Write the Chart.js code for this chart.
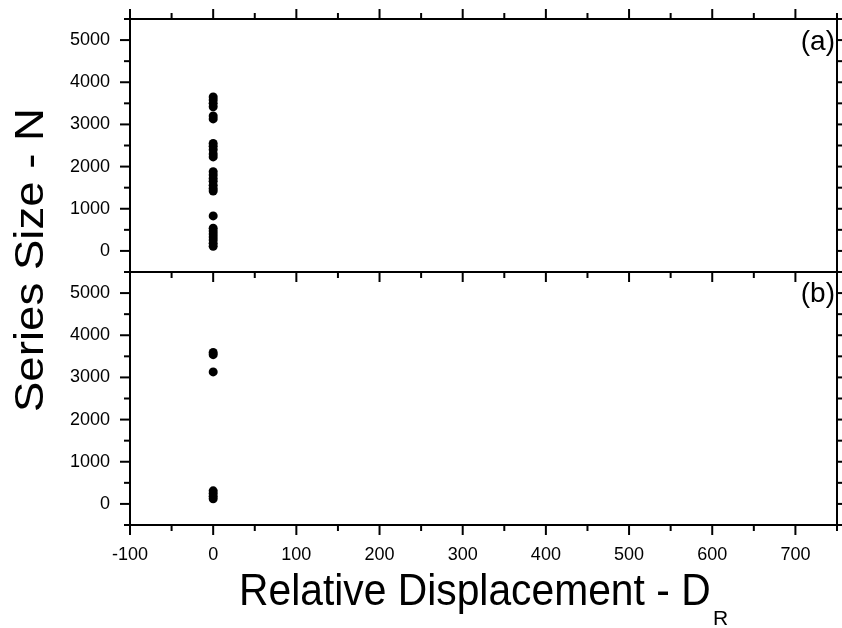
<!DOCTYPE html>
<html>
<head>
<meta charset="utf-8">
<script src="https://cdn.jsdelivr.net/npm/chart.js@4.4.0/dist/chart.umd.min.js"></script>
<style>
    html, body { margin: 0; padding: 0; background: #fff; }
    #wrap { width: 842px; height: 628px; position: relative; }
</style>
</head>
<body>
<div id="wrap"><canvas id="chart" width="842" height="628"></canvas></div>
<script>
// tick labels
const xTicks = [-100, 0, 100, 200, 300, 400, 500, 600, 700];
const yTicks = [0, 1000, 2000, 3000, 4000, 5000];

// panel (a): series size N vs relative displacement D_R
const sizeA = [3650, 3580, 3500, 3420, 3200, 3130,
               2550, 2480, 2400, 2300, 2230,
               1880, 1800, 1720, 1650, 1560, 1480, 1420,
               830,
               540, 470, 400, 330, 260, 180, 110];
const dispA = [0, 0, 0, 0, 0, 0,
               0, 0, 0, 0, 0,
               0, 0, 0, 0, 0, 0, 0,
               0,
               0, 0, 0, 0, 0, 0, 0];

// panel (b)
const sizeB = [3590, 3540, 3130, 310, 250, 180, 120];
const dispB = [0, 0, 0, 0, 0, 0, 0];

const FONT = '"Liberation Sans", Arial, sans-serif';

function toPoints(xs, ys) {
    return ys.map((y, i) => ({ x: xs[i], y: y }));
}

function line(ctx, x1, y1, x2, y2) {
    ctx.beginPath();
    ctx.moveTo(x1, y1);
    ctx.lineTo(x2, y2);
    ctx.stroke();
}

// frame, tick marks, titles and panel labels
const framePlugin = {
    id: 'frame',
    afterDraw(chart) {
        const ctx = chart.ctx;
        const ca = chart.chartArea;
        const x = chart.scales.x;
        const ya = chart.scales.yA;
        const yb = chart.scales.yB;
        const mid = ya.bottom;

        ctx.save();
        ctx.strokeStyle = '#000';
        ctx.lineWidth = 2;
        ctx.strokeRect(ca.left, ca.top, ca.right - ca.left, ca.bottom - ca.top);
        line(ctx, ca.left, mid, ca.right, mid);

        for (let v = -100; v <= 750; v += 50) {
            const px = x.getPixelForValue(v);
            const len = v % 100 === 0 ? 10 : 6;
            line(ctx, px, ca.top, px, ca.top - len);
            line(ctx, px, mid, px, mid + len);
            line(ctx, px, ca.bottom, px, ca.bottom + len);
        }

        [ya, yb].forEach(s => {
            for (let v = -500; v <= 5500; v += 500) {
                const py = s.getPixelForValue(v);
                const len = v % 1000 === 0 ? 10 : 6;
                line(ctx, ca.left - len, py, ca.left, py);
                line(ctx, ca.right, py, ca.right + len, py);
            }
        });

        ctx.fillStyle = '#000';

        // panel labels
        ctx.font = '28px ' + FONT;
        ctx.textAlign = 'right';
        ctx.textBaseline = 'alphabetic';
        ctx.fillText('(a)', ca.right - 2, ca.top + 31);
        ctx.fillText('(b)', ca.right - 2, mid + 30);

        // x title with subscript (source image is slightly stretched vertically)
        ctx.textAlign = 'left';
        ctx.save();
        ctx.translate(239, 605);
        ctx.scale(1, 1.09);
        ctx.font = '40.8px ' + FONT;
        ctx.fillText('Relative Displacement - D', 0, 0);
        ctx.restore();
        ctx.font = '21px ' + FONT;
        ctx.fillText('R', 713, 625);

        // y title
        ctx.save();
        ctx.font = '40px ' + FONT;
        ctx.textAlign = 'center';
        ctx.translate(43, 260);
        ctx.rotate(-Math.PI / 2);
        ctx.scale(1.14, 1);
        ctx.fillText('Series Size - N', 0, 0);
        ctx.restore();
        ctx.restore();
    }
};

function yScale() {
    return {
        type: 'linear',
        position: 'left',
        stack: 'panels',
        stackWeight: 1,
        min: -500,
        max: 5500,
        afterBuildTicks: s => { s.ticks = yTicks.map(v => ({ value: v })); },
        afterFit: s => {
            s.width = 130;
            s.paddingTop = 0;
            s.paddingBottom = 0;
        },
        grid: { display: false, drawTicks: false },
        border: { display: false },
        ticks: {
            padding: 20,
            color: '#000',
            font: { family: FONT, size: 18 },
            callback: v => String(v)
        }
    };
}

new Chart(document.getElementById('chart'), {
    type: 'scatter',
    data: {
        datasets: [
            {
                label: '(a)',
                data: toPoints(dispA, sizeA),
                yAxisID: 'yA',
                backgroundColor: '#000',
                borderColor: '#000',
                pointRadius: 4.5,
                borderWidth: 0
            },
            {
                label: '(b)',
                data: toPoints(dispB, sizeB),
                yAxisID: 'yB',
                backgroundColor: '#000',
                borderColor: '#000',
                pointRadius: 4.5,
                borderWidth: 0
            }
        ]
    },
    options: {
        responsive: false,
        animation: false,
        layout: { padding: { top: 19, right: 5, left: 0, bottom: 0 } },
        plugins: {
            legend: { display: false },
            tooltip: { enabled: false }
        },
        scales: {
            x: {
                type: 'linear',
                position: 'bottom',
                min: -100,
                max: 750,
                afterBuildTicks: s => { s.ticks = xTicks.map(v => ({ value: v })); },
                afterFit: s => {
                    s.height = 103;
                    s.paddingLeft = 0;
                    s.paddingRight = 0;
                },
                grid: { display: false, drawTicks: false },
                border: { display: false },
                ticks: {
                    padding: 19,
                    maxRotation: 0,
                    color: '#000',
                    font: { family: FONT, size: 18 },
                    callback: v => String(v)
                }
            },
            yB: yScale(),
            yA: yScale()
        }
    },
    plugins: [framePlugin]
});
</script>
</body>
</html>
